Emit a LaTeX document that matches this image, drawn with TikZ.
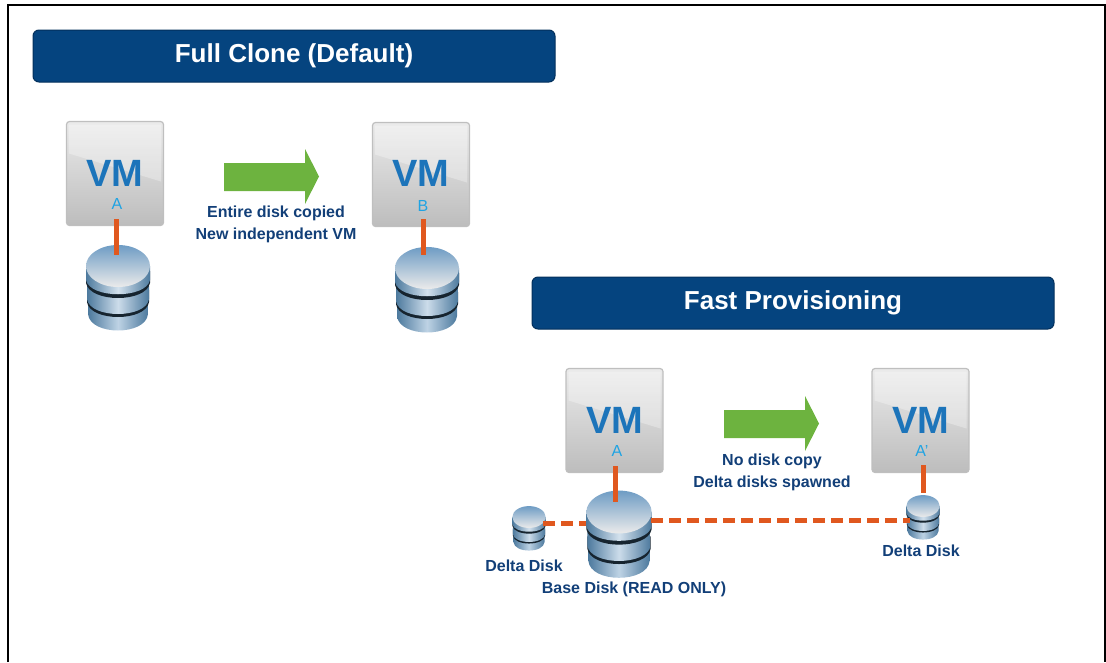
\documentclass[tikz,border=0pt]{standalone}
\usepackage{fontspec}
\setmainfont{Liberation Sans}
\definecolor{bannerblue}{HTML}{05447F}
\definecolor{bannerdark}{HTML}{03305C}
\definecolor{bannerlight}{HTML}{2C6CA6}
\definecolor{labelblue}{HTML}{123F78}
\definecolor{vmblue}{HTML}{1C74BA}
\definecolor{vmcyan}{HTML}{1FA3E3}
\definecolor{linkorange}{HTML}{E0581F}
\definecolor{arrowgreen}{HTML}{6DB33F}
\definecolor{diskblue}{HTML}{6E9CC4}
\definecolor{diskedge}{HTML}{4D7A9E}
\definecolor{diskdark}{HTML}{16242F}
\pgfdeclareverticalshading{bannershade}{100bp}{color(0bp)=(bannerdark); color(10bp)=(bannerdark); color(16bp)=(bannerblue); color(82bp)=(bannerblue); color(88bp)=(bannerlight); color(96bp)=(bannerlight); color(100bp)=(bannerblue)}
\tikzstyle{banner}=[rounded corners=6pt, draw=bannerdark, line width=1pt, shading=bannershade, text=white, minimum width=522pt, minimum height=52pt, font=\fontsize{26}{30}\bfseries\selectfont]
\tikzstyle{vmbox}=[rounded corners=3pt, draw=black!25, line width=1.2pt, top color=black!8, bottom color=black!26, minimum width=97pt, minimum height=104pt]
\tikzstyle{vmtext}=[text=vmblue, font=\fontsize{38}{40}\bfseries\selectfont]
\tikzstyle{vmname}=[text=vmcyan, font=\fontsize{16}{18}\selectfont]
\tikzstyle{caption}=[text=labelblue, align=center, font=\fontsize{16}{22}\bfseries\selectfont]
\tikzstyle{link}=[draw=linkorange, line width=5pt]
\tikzstyle{deltalink}=[link, dash pattern=on 12pt off 6pt]
\tikzstyle{copyarrow}=[fill=arrowgreen]
\newcommand{\disk}[4]{
\begin{scope}[shift={(#1,#2)}, scale=#3]
\shade[left color=diskedge, right color=diskedge, middle color=diskblue!45] (-30,38) -- (-30,48) .. controls (-28,70) and (28,70) .. (30,48) -- (30,38) -- cycle;
\fill[diskdark] (-31,24) -- (-31,36) .. controls (-28,56) and (28,56) .. (31,36) -- (31,24) -- cycle;
\shade[left color=diskedge, right color=diskedge, middle color=diskblue!35] (-31,20) -- (-31,33) .. controls (-28,53) and (28,53) .. (31,33) -- (31,20) -- cycle;
\fill[diskdark] (-32,5) -- (-32,17) .. controls (-28,37) and (28,37) .. (32,17) -- (32,5) -- cycle;
\shade[left color=diskedge, right color=diskedge, middle color=diskblue!30] (-32,0) -- (-32,14) .. controls (-28,33) and (28,33) .. (32,14) -- (32,0) -- cycle;
\shade[top color=diskblue, bottom color=black!8] (0,0) ellipse [x radius=32, y radius=21];
\end{scope}
\coordinate (#4) at (#1,#2);
}
\newcommand{\vmsheen}[2]{
\fill[white, opacity=0.3] (#1-46,#2-49) -- (#1+46,#2-49) -- (#1+46,#2+8) -- (#1-46,#2-20) -- cycle;
}
\begin{document}
\begin{tikzpicture}[x=1pt, y=-1pt]
\useasboundingbox (0,0) rectangle (1106,662);
\draw[line width=1.6pt] (8,662) -- (8,5) -- (1105,5) -- (1105,662);
\node [banner] (fullclone) at (294,56) {Full Clone (Default)};
\node [banner] (fastprov) at (793,303) {Fast Provisioning};
\node [vmbox] (vmA) at (115,173.5) {};
\node [vmbox] (vmB) at (421,174.5) {};
\node [vmbox] (vmC) at (614.5,420.5) {};
\node [vmbox] (vmD) at (920.5,420.5) {};
\vmsheen{115}{173.5}
\vmsheen{421}{174.5}
\vmsheen{614.5}{420.5}
\vmsheen{920.5}{420.5}
\node [vmtext] (vmtextA) at (115,173) {VM};
\node [vmtext] (vmtextB) at (421,173) {VM};
\node [vmtext] (vmtextC) at (614.5,420) {VM};
\node [vmtext] (vmtextD) at (920.5,420) {VM};
\node [vmname] (nameA) at (117,204) {A};
\node [vmname] (nameB) at (423,206) {B};
\node [vmname] (nameC) at (617,451) {A};
\node [vmname] (nameD) at (922,451) {A'};
\disk{118}{266}{1}{diskA}
\disk{427}{268}{1}{diskB}
\disk{619}{512}{1.02}{diskC}
\disk{529}{517}{0.52}{deltaL}
\disk{923}{506}{0.52}{deltaR}
\coordinate (tapA) at (116,219);
\coordinate (tapB) at (423,219);
\coordinate (tapC) at (615,466);
\coordinate (tapD) at (923,465);
\coordinate (endA) at (116,255);
\coordinate (endB) at (423,255);
\coordinate (endC) at (615,502);
\coordinate (endD) at (923,493);
\coordinate (baseL) at (586,523);
\coordinate (baseR) at (651,520);
\coordinate (deltaLend) at (543,523);
\coordinate (deltaRend) at (910,520);
\draw [link] (tapA) -- (endA)
(tapB) -- (endB)
(tapC) -- (endC)
(tapD) -- (endD);
\draw [deltalink] (deltaLend) -- (baseL);
\draw [deltalink] (baseR) -- (deltaRend);
\fill [copyarrow] (224,163) -- (305,163) -- (305,149) -- (319,176.5) -- (305,204) -- (305,191) -- (224,191) -- cycle;
\fill [copyarrow] (724,410) -- (805,410) -- (805,396) -- (819,423.5) -- (805,451) -- (805,438) -- (724,438) -- cycle;
\node [caption] (capfull) at (276,224) {Entire disk copied\\New independent VM};
\node [caption] (capfast) at (772,472) {No disk copy\\Delta disks spawned};
\node [caption] (labelL) at (524,566) {Delta Disk};
\node [caption] (labelBase) at (634,589) {Base Disk (READ ONLY)};
\node [caption] (labelR) at (921,551) {Delta Disk};
\end{tikzpicture}
\end{document}
